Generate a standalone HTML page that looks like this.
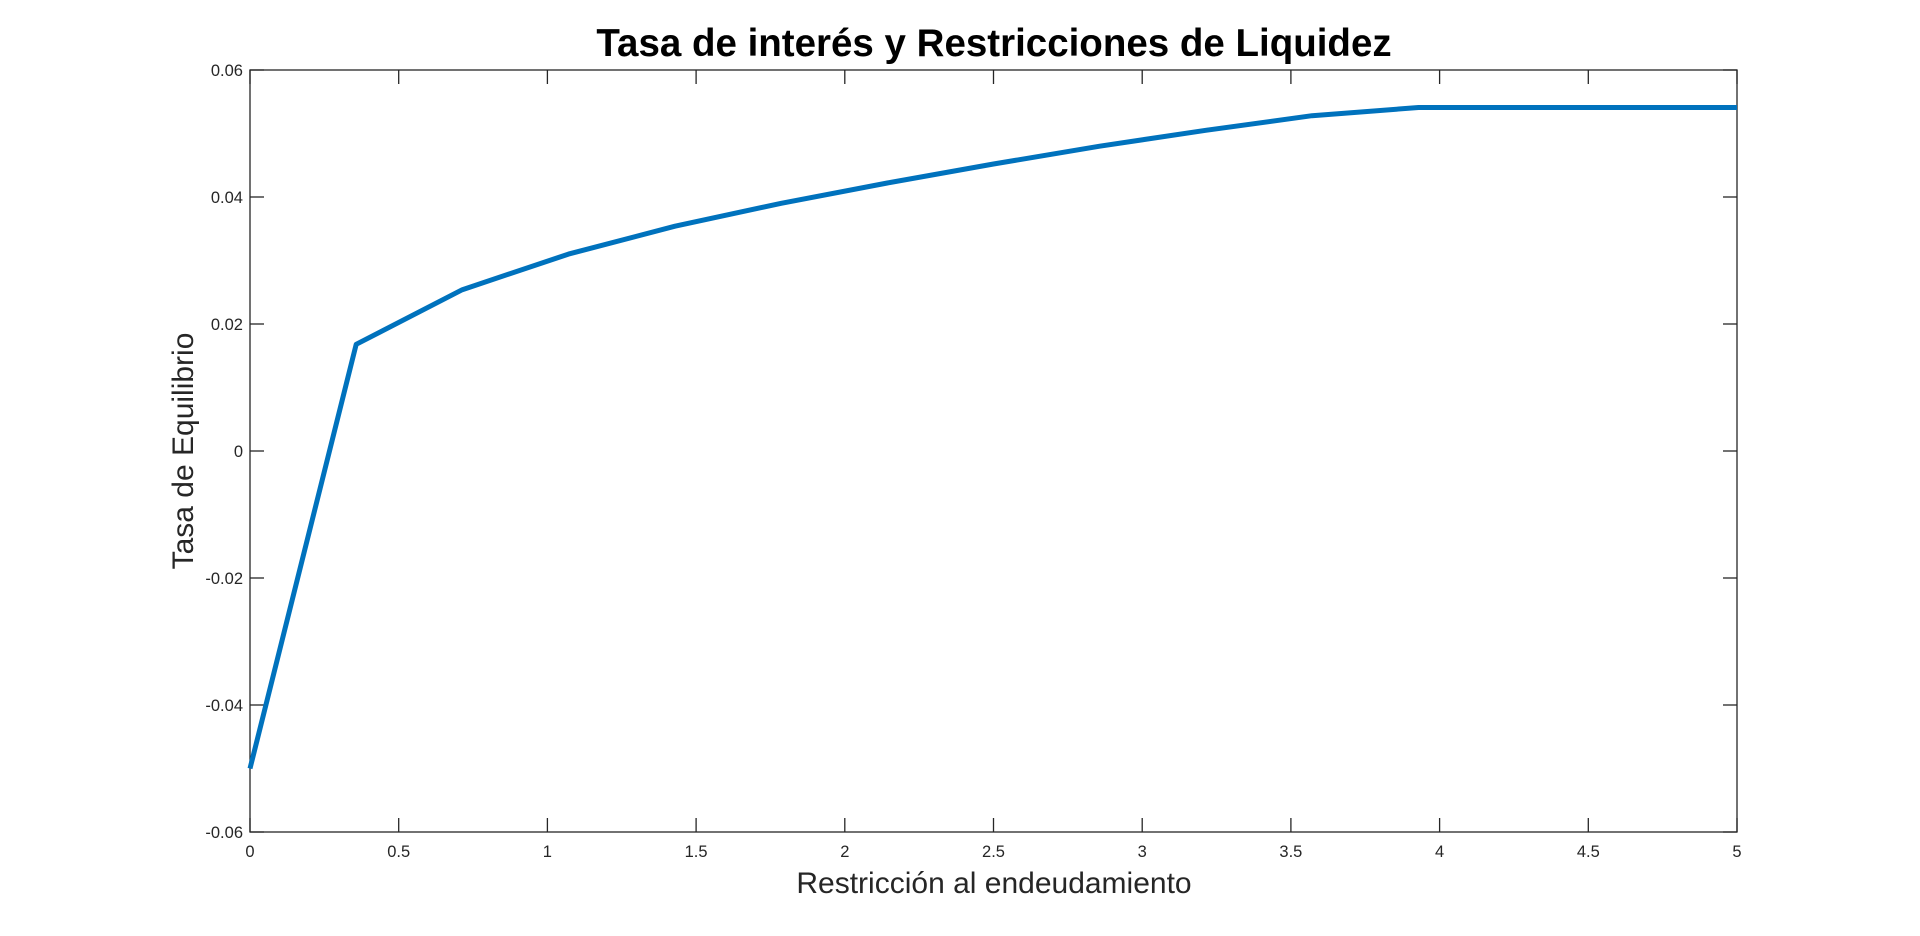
<!DOCTYPE html>
<html><head><meta charset="utf-8">
<style>
html,body{margin:0;padding:0;background:#fff;}
svg{display:block;font-family:"Liberation Sans",Arial,sans-serif;}
</style></head>
<body>
<svg id="chart" width="1920" height="936" viewBox="0 0 1920 936" xmlns="http://www.w3.org/2000/svg">
<rect x="0" y="0" width="1920" height="936" fill="#fff"/>
<text x="994" y="56" text-anchor="middle" font-size="38.5" font-weight="bold" fill="#000">Tasa de interés y Restricciones de Liquidez</text>
<text x="994" y="893" text-anchor="middle" font-size="30" fill="#262626">Restricción al endeudamiento</text>
<text transform="translate(193,451) rotate(-90)" text-anchor="middle" font-size="30" fill="#262626">Tasa de Equilibrio</text>
<g id="ticks"></g>
<rect x="250" y="70" width="1487" height="762" fill="none" stroke="#262626" stroke-width="1.3"/>
<g id="series"></g>
</svg>
<script>
const xValues = [0, 0.357, 0.714, 1.071, 1.429, 1.786, 2.143, 2.5, 2.857, 3.214, 3.571, 3.929, 4.286, 4.643, 5];
const yValues = [-0.05, 0.0168, 0.0254, 0.031, 0.0354, 0.039, 0.0422, 0.0452, 0.048, 0.0505, 0.0528, 0.0541, 0.0541, 0.0541, 0.0541];
const xTicks = [0, 0.5, 1, 1.5, 2, 2.5, 3, 3.5, 4, 4.5, 5];
const xTickLabels = ["0", "0.5", "1", "1.5", "2", "2.5", "3", "3.5", "4", "4.5", "5"];
const yTicks = [-0.06, -0.04, -0.02, 0, 0.02, 0.04, 0.06];
const yTickLabels = ["-0.06", "-0.04", "-0.02", "0", "0.02", "0.04", "0.06"];

const L = 250, R = 1737, T = 70, B = 832;
const xMin = 0, xMax = 5, yMin = -0.06, yMax = 0.06;
function sx(v){ return L + (v - xMin) / (xMax - xMin) * (R - L); }
function sy(v){ return B - (v - yMin) / (yMax - yMin) * (B - T); }
const NS = "http://www.w3.org/2000/svg";
const tg = document.getElementById('ticks');
function mk(tag, attrs){ const e = document.createElementNS(NS, tag); for (const k in attrs) e.setAttribute(k, attrs[k]); return e; }

xTicks.forEach((v, i) => {
  const x = sx(v);
  const t1 = mk('line', {x1:x, x2:x, y1:B, y2:B-14, stroke:'#262626', 'stroke-width':1.3});
  
  
  tg.appendChild(t1);
  const t2 = mk('line', {x1:x, x2:x, y1:T, y2:T+14, stroke:'#262626', 'stroke-width':1.3});
  
  
  tg.appendChild(t2);
  const lb = mk('text', {x:x, y:B+25, 'text-anchor':'middle', 'font-size':16.5, fill:'#262626'});
  lb.textContent = xTickLabels[i];
  
  
  tg.appendChild(lb);
});
yTicks.forEach((v, i) => {
  const y = sy(v);
  const t1 = mk('line', {x1:L, x2:L+14, y1:y, y2:y, stroke:'#262626', 'stroke-width':1.3});
  
  
  tg.appendChild(t1);
  const t2 = mk('line', {x1:R, x2:R-14, y1:y, y2:y, stroke:'#262626', 'stroke-width':1.3});
  
  
  tg.appendChild(t2);
  const lb = mk('text', {x:L-7, y:y+6, 'text-anchor':'end', 'font-size':16.5, fill:'#262626'});
  lb.textContent = yTickLabels[i];
  
  
  tg.appendChild(lb);
});
const pts = xValues.map((v, i) => sx(v).toFixed(1) + ',' + sy(yValues[i]).toFixed(1)).join(' ');
const line = mk('polyline', {points:pts, fill:'none', stroke:'#0072BD', 'stroke-width':5, 'stroke-linejoin':'round'});


document.getElementById('series').appendChild(line);
</script>
</body></html>
